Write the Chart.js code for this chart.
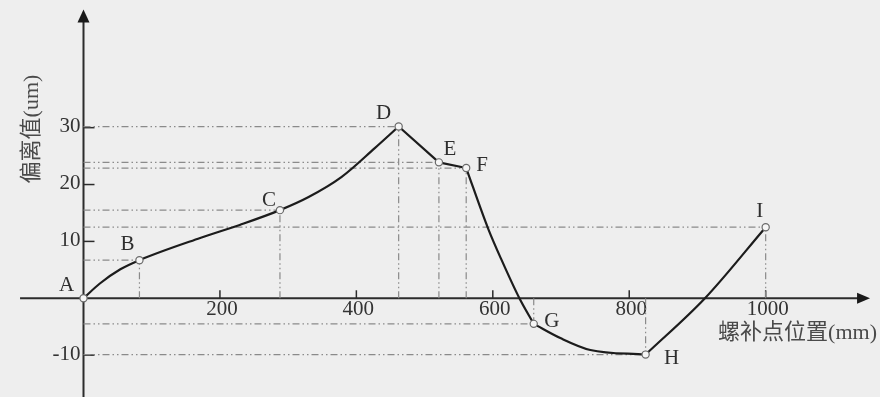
<!DOCTYPE html>
<html>
<head>
<meta charset="utf-8">
<script src="https://cdn.jsdelivr.net/npm/chart.js@4.4.0/dist/chart.umd.min.js"></script>
<style>
  html, body { margin: 0; padding: 0; background: #eeeeee; }
  #wrap { width: 880px; height: 397px; }
</style>
</head>
<body>
<div id="wrap"><canvas id="chart" width="880" height="397"></canvas></div>
<script>
// labelled points
var pointNames = ['A', 'B', 'C', 'D', 'E', 'F', 'G', 'H', 'I'];
var pointX = [0, 82, 288, 462, 521, 561, 660, 824, 1000];
var pointY = [0, 6.7, 15.5, 30.2, 23.9, 22.9, -4.5, -9.9, 12.5];

// the curve itself (labelled points + read-off points in between)
var curveX = [0, 24, 54, 82, 171, 229, 288, 330, 378, 427, 462, 521, 561, 593, 613, 639, 660, 699, 743, 824, 911, 1000];
var curveY = [0, 2.6, 5.1, 6.7, 10.6, 12.9, 15.5, 17.8, 21.3, 26.4, 30.2, 23.9, 22.9, 12.3, 6.7, 0, -4.5, -7.0, -9.1, -9.9, 0, 12.5];
// sharp corners of the curve
var corners = ['D', 'E', 'F', 'G', 'H'];

// tick labels
var xTicks = [200, 400, 600, 800, 1000];
var yTicks = [30, 20, 10, -10];

var xTitle = '螺补点位置(mm)';
var yTitle = '偏离值(um)';

// label offsets in px (style only)
var labelDx = [-17, -12, -11, -15, 11, 16, 18, 26, -6];
var labelDy = [-13, -16, -10, -13, -13, -3, -2, 4, -16];

var serif = '"Liberation Serif", "Noto Sans CJK SC", serif';
var guideColor = '#8a8a8a';
var guideDash = [7, 3, 1.5, 3, 1.5, 3];

var datasets = [];

// guide lines from points to the axes
for (var i = 1; i < pointNames.length; i++) {
    datasets.push({
        data: [{x: 0, y: pointY[i]}, {x: pointX[i], y: pointY[i]}],
        showLine: true, borderColor: guideColor, borderWidth: 1.2,
        borderDash: guideDash, pointRadius: 0, order: 3
    });
    datasets.push({
        data: [{x: pointX[i], y: 0}, {x: pointX[i], y: pointY[i]}],
        showLine: true, borderColor: guideColor, borderWidth: 1.2,
        borderDash: guideDash, pointRadius: 0, order: 3
    });
}

// curve, split at the corners so they stay sharp
var cuts = [0];
corners.forEach(function (n) {
    var k = pointNames.indexOf(n);
    cuts.push(curveX.indexOf(pointX[k]));
});
cuts.push(curveX.length - 1);
for (var c = 0; c < cuts.length - 1; c++) {
    var piece = [];
    for (var j = cuts[c]; j <= cuts[c + 1]; j++) {
        piece.push({x: curveX[j], y: curveY[j]});
    }
    datasets.push({
        data: piece, showLine: true, borderColor: '#1c1c1c', borderWidth: 2.2,
        cubicInterpolationMode: 'monotone', pointRadius: 0, order: 2
    });
}

// markers
datasets.push({
    data: pointX.map(function (x, k) { return {x: x, y: pointY[k]}; }),
    showLine: false, pointRadius: 3.6, pointBorderWidth: 1.2,
    pointBorderColor: '#6a6a6a', pointBackgroundColor: '#f6f6f6', order: 1
});

var axesPlugin = {
    id: 'axes',
    beforeDraw: function (chart) {
        var ctx = chart.ctx;
        ctx.save();
        ctx.fillStyle = '#eeeeee';
        ctx.fillRect(0, 0, chart.width, chart.height);
        ctx.restore();
    },
    beforeDatasetsDraw: function (chart) {
        var ctx = chart.ctx;
        var xs = chart.scales.x, ys = chart.scales.y;
        var ox = xs.getPixelForValue(0), oy = ys.getPixelForValue(0);
        var left = xs.getPixelForValue(-93), right = xs.getPixelForValue(1153);
        var top = ys.getPixelForValue(50.8), bottom = chart.height;
        ctx.save();
        ctx.strokeStyle = '#2b2b2b';
        ctx.fillStyle = '#1a1a1a';
        ctx.lineWidth = 2;
        // x axis
        ctx.beginPath();
        ctx.moveTo(left, oy);
        ctx.lineTo(right - 10, oy);
        ctx.stroke();
        ctx.beginPath();
        ctx.moveTo(right, oy);
        ctx.lineTo(right - 13, oy - 5.5);
        ctx.lineTo(right - 13, oy + 5.5);
        ctx.closePath();
        ctx.fill();
        // y axis
        ctx.beginPath();
        ctx.moveTo(ox, bottom);
        ctx.lineTo(ox, top + 10);
        ctx.stroke();
        ctx.beginPath();
        ctx.moveTo(ox, top);
        ctx.lineTo(ox - 6, top + 13);
        ctx.lineTo(ox + 6, top + 13);
        ctx.closePath();
        ctx.fill();

        // ticks + labels
        ctx.lineWidth = 1.5;
        ctx.font = '21px ' + serif;
        ctx.fillStyle = '#333333';
        ctx.textAlign = 'center';
        ctx.textBaseline = 'top';
        xTicks.forEach(function (t) {
            var px = xs.getPixelForValue(t);
            ctx.beginPath();
            ctx.moveTo(px, oy);
            ctx.lineTo(px, oy - 8);
            ctx.stroke();
            ctx.fillText(String(t), px + 2, oy + 1);
        });
        ctx.textAlign = 'right';
        ctx.textBaseline = 'middle';
        yTicks.forEach(function (t) {
            var py = ys.getPixelForValue(t);
            ctx.beginPath();
            ctx.moveTo(ox, py);
            ctx.lineTo(ox + 11, py);
            ctx.stroke();
            ctx.fillText(String(t), ox - 3, py - 1);
        });

        // axis titles
        ctx.fillStyle = '#4a4a4a';
        ctx.font = '22px ' + serif;
        ctx.textAlign = 'right';
        ctx.fillText(xTitle, 877, 333);
        ctx.save();
        ctx.translate(32, 129);
        ctx.rotate(-Math.PI / 2);
        ctx.textAlign = 'center';
        ctx.fillText(yTitle, 0, 0);
        ctx.restore();
        ctx.restore();
    },
    afterDatasetsDraw: function (chart) {
        var ctx = chart.ctx;
        var xs = chart.scales.x, ys = chart.scales.y;
        ctx.save();
        ctx.font = '21px ' + serif;
        ctx.fillStyle = '#2e2e2e';
        ctx.textAlign = 'center';
        ctx.textBaseline = 'middle';
        pointNames.forEach(function (n, k) {
            ctx.fillText(n, xs.getPixelForValue(pointX[k]) + labelDx[k],
                ys.getPixelForValue(pointY[k]) + labelDy[k]);
        });
        ctx.restore();
    }
};

var chart = new Chart(document.getElementById('chart').getContext('2d'), {
    type: 'scatter',
    data: {datasets: datasets},
    options: {
        responsive: false,
        animation: false,
        layout: {padding: 0, autoPadding: false},
        plugins: {legend: {display: false}, tooltip: {enabled: false}},
        scales: {
            x: {type: 'linear', display: false, min: -122.4, max: 1167.6},
            y: {type: 'linear', display: false, min: -17.36, max: 52.45}
        }
    },
    plugins: [axesPlugin]
});
</script>
</body>
</html>
